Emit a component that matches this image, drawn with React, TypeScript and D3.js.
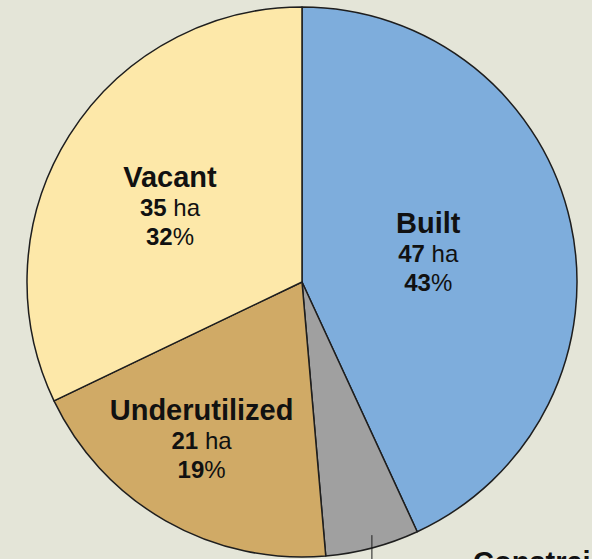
import React from "react";
import * as d3 from "d3";

const categories = ["Built", "Constrained", "Underutilized", "Vacant"];
const hectares = [47, 6, 21, 35];
const percents = [43, 6, 19, 32];
const colors = ["#7eaddc", "#a0a0a0", "#d0aa66", "#fde8a9"];
// label placement (layout only): radius fraction and angle shift in degrees
const labelRadius = [0.47, 0, 0.685, 0.55];
const labelShift = [0, 0, 2.5, -3];

const W = 592;
const H = 559;
const CX = 302;
const CY = 282;
const R = 275;
const FONT = "'Liberation Sans', Arial, sans-serif";

export default function App() {
  const data = categories.map((c, i) => ({ c, ha: hectares[i], pct: percents[i], i }));
  const pie = d3.pie<any>().sort(null).value((d) => d.ha);
  const arcs = pie(data);
  const arc = d3.arc<any>().innerRadius(0).outerRadius(R);

  const constrained = arcs[1];
  const cMid = (constrained.startAngle + constrained.endAngle) / 2 - 0.01;
  const lr = R * 0.955;
  const lx = lr * Math.sin(cMid);
  const ly = -lr * Math.cos(cMid);

  return (
    <div style={{ position: "fixed", left: 0, top: 0, width: W, height: H, overflow: "hidden", background: "#e4e5d8" }}>
      <svg width={W} height={H} style={{ display: "block" }}>
        <rect x={0} y={0} width={W} height={H} fill="#e4e5d8" />
        <g transform={`translate(${CX},${CY})`}>
          {arcs.map((a, i) => (
            <path key={i} d={arc(a) || ""} fill={colors[i]} stroke="#1e1e1e" strokeWidth={1.5} strokeLinejoin="round" />
          ))}
          {arcs.map((a, i) => {
            if (i === 1) return null;
            const rr = R * labelRadius[i];
            const ang = (a.startAngle + a.endAngle) / 2 + (labelShift[i] * Math.PI) / 180;
            const x = rr * Math.sin(ang);
            const y = -rr * Math.cos(ang);
            return (
              <g key={"l" + i} transform={`translate(${x},${y})`} fontFamily={FONT} textAnchor="middle" fill="#111">
                <text y={-21} fontSize={29} fontWeight="bold">{categories[i]}</text>
                <text y={8} fontSize={24}>
                  <tspan fontWeight="bold">{hectares[i]}</tspan>
                  <tspan> ha</tspan>
                </text>
                <text y={37} fontSize={24}>
                  <tspan fontWeight="bold">{percents[i]}</tspan>
                  <tspan>%</tspan>
                </text>
              </g>
            );
          })}
          <line x1={lx} y1={ly} x2={lx} y2={R + 40} stroke="#1e1e1e" strokeWidth={1} />
          <text x={171} y={290} fontFamily={FONT} fontSize={29} fontWeight="bold" fill="#111">
            {categories[1]}
          </text>
        </g>
      </svg>
    </div>
  );
}
